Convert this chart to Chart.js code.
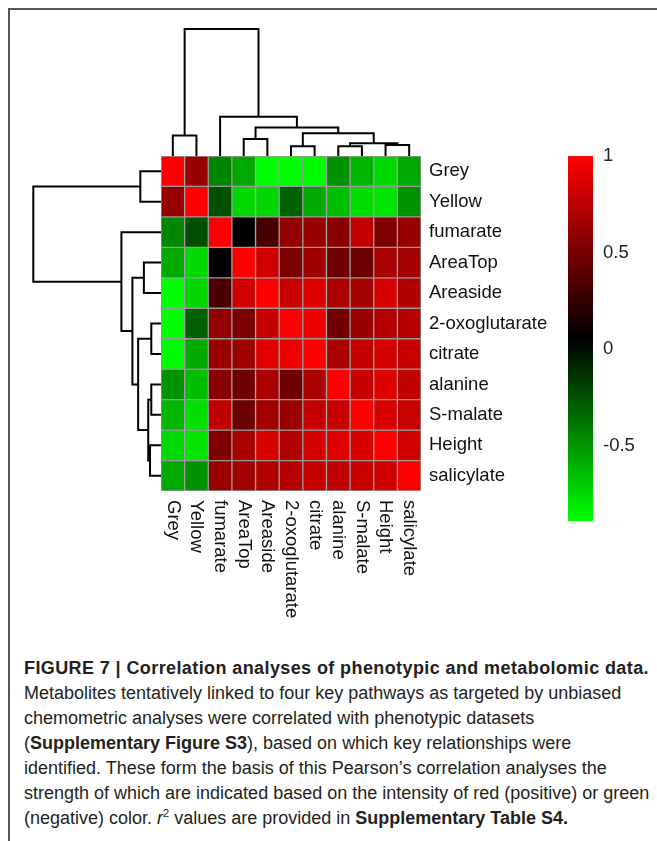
<!DOCTYPE html>
<html>
<head>
<meta charset="utf-8">
<script src="https://cdn.jsdelivr.net/npm/chart.js@4.4.1/dist/chart.umd.min.js"></script>
<style>
  html, body { margin: 0; padding: 0; background: #fff; }
  body { width: 657px; height: 841px; position: relative; overflow: hidden; font-family: "Liberation Sans", Arial, sans-serif; }
  .frame { position: absolute; left: 8px; top: 8px; right: -4px; bottom: -4px; border-top: 2px solid #555; border-left: 2px solid #555; }
  canvas { position: absolute; }
  #caption { position: absolute; left: 24px; top: 656px; font-size: 18px; line-height: 25px; color: #231f20; white-space: nowrap; }
  #caption .title { letter-spacing: 0.4px; }
  #caption sup { font-size: 11px; line-height: 0; vertical-align: 7px; }
</style>
</head>
<body>
<div class="frame"></div>
<canvas id="topDendro" width="260" height="137" style="left:161px;top:19px"></canvas>
<canvas id="leftDendro" width="138" height="335" style="left:23px;top:156px"></canvas>
<canvas id="heatmap" width="400" height="475" style="left:161px;top:156px"></canvas>
<canvas id="colorbar" width="90" height="385" style="left:568px;top:146px"></canvas>
<div id="caption">
<b class="title">FIGURE 7 | Correlation analyses of phenotypic and metabolomic data.</b><br>
Metabolites tentatively linked to four key pathways as targeted by unbiased<br>
chemometric analyses were correlated with phenotypic datasets<br>
(<b>Supplementary Figure S3</b>), based on which key relationships were<br>
identified. These form the basis of this Pearson’s correlation analyses the<br>
strength of which are indicated based on the intensity of red (positive) or green<br>
(negative) color. <i>r</i><sup>2</sup> values are provided in <b>Supplementary Table S4.</b>
</div>
<script>
const labels = ["Grey", "Yellow", "fumarate", "AreaTop", "Areaside", "2-oxoglutarate",
  "citrate", "alanine", "S-malate", "Height", "salicylate"];

// correlation values, rows and columns in the order of labels
const correlations = [
  [ 1.00,  0.62, -0.44, -0.57, -0.89, -0.89, -0.87, -0.49, -0.62, -0.75, -0.57],
  [ 0.62,  1.00, -0.24, -0.75, -0.74, -0.30, -0.57, -0.65, -0.77, -0.79, -0.49],
  [-0.44, -0.24,  1.00,  0.05,  0.32,  0.60,  0.62,  0.56,  0.77,  0.53,  0.62],
  [-0.57, -0.75,  0.05,  1.00,  0.83,  0.51,  0.64,  0.47,  0.46,  0.68,  0.66],
  [-0.89, -0.74,  0.32,  0.83,  1.00,  0.80,  0.89,  0.69,  0.66,  0.86,  0.71],
  [-0.89, -0.30,  0.60,  0.51,  0.80,  1.00,  0.93,  0.47,  0.63,  0.72,  0.73],
  [-0.87, -0.57,  0.62,  0.64,  0.89,  0.93,  1.00,  0.68,  0.78,  0.84,  0.79],
  [-0.49, -0.65,  0.56,  0.47,  0.69,  0.47,  0.68,  1.00,  0.80,  0.89,  0.77],
  [-0.62, -0.77,  0.77,  0.46,  0.66,  0.63,  0.78,  0.80,  1.00,  0.86,  0.80],
  [-0.75, -0.79,  0.53,  0.68,  0.86,  0.72,  0.84,  0.89,  0.86,  1.00,  0.83],
  [-0.57, -0.49,  0.62,  0.66,  0.71,  0.73,  0.79,  0.77,  0.80,  0.83,  1.00],
];

// hclust-style merges: negative = leaf (1-based), positive = earlier merge step
const mergePairs = [[-6, -7], [-8, -9], [-10, -11], [2, 3], [-4, -5], [-1, -2], [1, 4], [5, 7], [-3, 8], [6, 9]];
const mergeHeights = [0.076, 0.076, 0.086, 0.10, 0.134, 0.162, 0.179, 0.224, 0.31, 1.0];

const colorbarTicks = [-0.5, 0, 0.5, 1];

const allValues = correlations.flat();
const vMin = Math.min(...allValues);
const vMax = Math.max(...allValues);

// green -> black -> red over the data range
function cellColor(v) {
  const t = (v - vMin) / (vMax - vMin);
  if (t < 0.5) return `rgb(0,${Math.round(255 * (1 - 2 * t))},0)`;
  return `rgb(${Math.round(255 * (2 * t - 1))},0,0)`;
}

function dendroSegments(pairs, heights) {
  const pos = [];
  const segs = [];
  pairs.forEach(([a, b], k) => {
    const node = (id) => (id < 0 ? { p: -id - 0.5, h: 0 } : { p: pos[id - 1], h: heights[id - 1] });
    const l = node(a);
    const r = node(b);
    segs.push([[l.p, l.h], [l.p, heights[k]], [r.p, heights[k]], [r.p, r.h]]);
    pos.push((l.p + r.p) / 2);
  });
  return segs;
}

const segments = dendroSegments(mergePairs, mergeHeights);
const lineStyle = { showLine: true, borderColor: "#000", borderWidth: 2, pointRadius: 0, tension: 0, clip: false };
const hidden = { display: false };
const noPad = (scale) => { scale.paddingTop = 0; scale.paddingBottom = 0; };

new Chart(document.getElementById("topDendro"), {
  type: "scatter",
  data: {
    datasets: segments.map((s) => ({ ...lineStyle, data: s.map(([p, h]) => ({ x: p, y: h })) })),
  },
  options: {
    responsive: false, animation: false,
    plugins: { legend: hidden, tooltip: { enabled: false } },
    layout: { padding: 0 },
    scales: {
      x: { type: "linear", min: 0, max: labels.length, display: false },
      y: { type: "linear", min: 0, max: 137 / 127, display: false },
    },
  },
});

new Chart(document.getElementById("leftDendro"), {
  type: "scatter",
  data: {
    datasets: segments.map((s) => ({ ...lineStyle, data: s.map(([p, h]) => ({ x: h, y: p })) })),
  },
  options: {
    responsive: false, animation: false,
    plugins: { legend: hidden, tooltip: { enabled: false } },
    layout: { padding: 0 },
    scales: {
      x: { type: "linear", min: 0, max: 138 / 127.7, reverse: true, display: false },
      y: { type: "linear", min: 0, max: labels.length, reverse: true, display: false },
    },
  },
});

const columnLabelsPlugin = {
  id: "columnLabels",
  afterDraw(chart) {
    const { ctx, chartArea, scales } = chart;
    ctx.save();
    ctx.font = '18.5px "Liberation Sans", Arial, sans-serif';
    ctx.fillStyle = "#111";
    ctx.textAlign = "left";
    ctx.textBaseline = "middle";
    labels.forEach((lab, i) => {
      ctx.save();
      ctx.translate(scales.x.getPixelForValue(i), chartArea.bottom + 9);
      ctx.rotate(Math.PI / 2);
      ctx.fillText(lab, 0, 0);
      ctx.restore();
    });
    ctx.restore();
  },
};

new Chart(document.getElementById("heatmap"), {
  type: "bar",
  data: {
    labels: labels,
    datasets: correlations.map((row, r) => ({
      data: row.map(() => [r, r + 1]),
      backgroundColor: row.map(cellColor),
      borderColor: "#9a9a9a",
      borderWidth: 1,
      borderSkipped: false,
      grouped: false,
      barPercentage: 1,
      categoryPercentage: 1,
    })),
  },
  options: {
    responsive: false, animation: false,
    plugins: { legend: hidden, tooltip: { enabled: false } },
    layout: { padding: { left: 0, top: 0, right: 0, bottom: 140 } },
    scales: {
      x: { display: false },
      y: {
        type: "linear", min: 0, max: labels.length, reverse: true, position: "right",
        grid: { display: false, drawTicks: false }, border: { display: false },
        afterFit: (scale) => { scale.width = 140; noPad(scale); },
        afterBuildTicks: (scale) => { scale.ticks = labels.map((_, i) => ({ value: i + 0.5 })); },
        ticks: {
          padding: 8, color: "#111",
          font: { family: '"Liberation Sans", Arial, sans-serif', size: 18.5 },
          callback: (v) => labels[Math.floor(v)],
        },
      },
    },
  },
  plugins: [columnLabelsPlugin],
});

new Chart(document.getElementById("colorbar"), {
  type: "bar",
  data: {
    labels: [""],
    datasets: [{
      data: [[vMin, vMax]],
      barPercentage: 1,
      categoryPercentage: 1,
      borderWidth: 0,
      backgroundColor: (context) => {
        const { chart } = context;
        const y = chart.scales.y;
        if (!chart.chartArea || !y) return "#000";
        const y0 = y.getPixelForValue(vMin);
        const y1 = y.getPixelForValue(vMax);
        if (!isFinite(y0) || !isFinite(y1)) return "#000";
        const g = chart.ctx.createLinearGradient(0, y0, 0, y1);
        g.addColorStop(0, "rgb(0,255,0)");
        g.addColorStop(0.5, "rgb(0,0,0)");
        g.addColorStop(1, "rgb(255,0,0)");
        return g;
      },
    }],
  },
  options: {
    responsive: false, animation: false,
    plugins: { legend: hidden, tooltip: { enabled: false } },
    layout: { padding: { left: 0, top: 10, right: 0, bottom: 10 } },
    scales: {
      x: { display: false },
      y: {
        type: "linear", min: vMin, max: vMax, position: "right",
        grid: { display: false, drawTicks: false }, border: { display: false },
        afterFit: (scale) => { scale.width = 65; noPad(scale); },
        afterBuildTicks: (scale) => { scale.ticks = colorbarTicks.map((v) => ({ value: v })); },
        ticks: {
          padding: 10, color: "#222",
          font: { family: '"Liberation Sans", Arial, sans-serif', size: 18.5 },
          callback: (v) => String(v),
        },
      },
    },
  },
});
</script>
</body>
</html>
